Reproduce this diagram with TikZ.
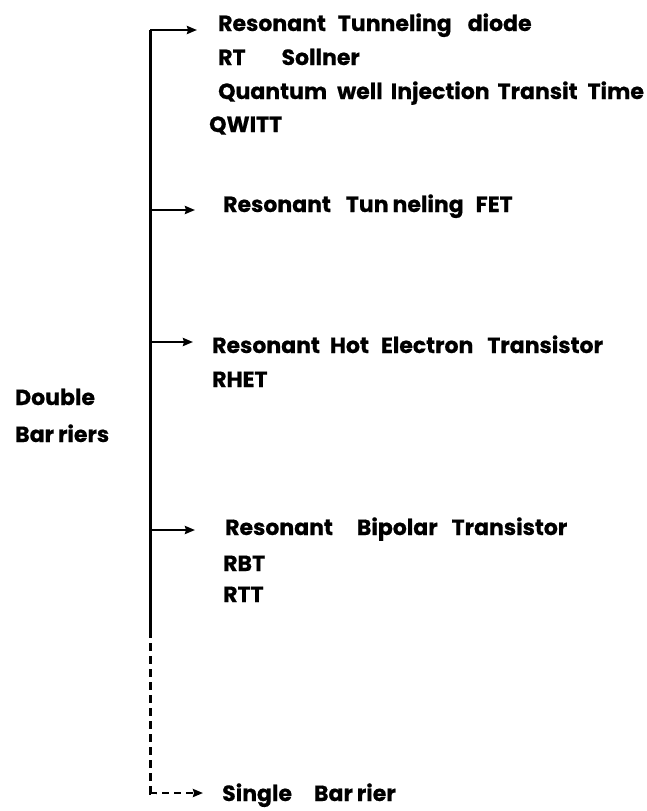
\documentclass[tikz,border=0pt]{standalone}
\usepackage{fontspec}
\setmainfont{Poppins}[BoldFeatures={FakeBold=0.6}]
\usetikzlibrary{arrows.meta}
\begin{document}
\begin{tikzpicture}[x=1pt,y=-1pt,
  lbl/.style={anchor=base west,inner sep=0pt,font=\fontsize{22}{26}\selectfont\bfseries},
  trunk/.style={line width=3pt},
  trunkdash/.style={line width=3pt,dash pattern=on 8pt off 5pt},
  branch/.style={line width=2.8pt,-{Stealth[length=10pt,width=8pt,inset=1pt]}},
  branchdash/.style={line width=2.8pt,dash pattern=on 7pt off 5pt,-{Stealth[length=10pt,width=8pt,inset=1pt]}}]
\useasboundingbox (0,0) rectangle (647,811);
% text
\node[lbl] (t1) at (218,31) {Resonant\hspace{12pt}Tunneling\hspace{16pt}diode};
\node[lbl] (t1b) at (218,65) {RT\hspace{36pt}Sollner};
\node[lbl] (t1c) at (218,99) {Quantum\hspace{10pt}well\hspace{8pt}Injection\hspace{8pt}Transit\hspace{10pt}Time};
\node[lbl] (t1d) at (209,132) {QWITT};
\node[lbl] (t2) at (223,212) {Resonant\hspace{15pt}Tun\hspace{4pt}neling\hspace{12pt}FET};
\node[lbl] (t3) at (212,353) {Resonant\hspace{10pt}Hot\hspace{12pt}Electron\hspace{14pt}Transistor};
\node[lbl] (t3b) at (212,387) {RHET};
\node[lbl] (d1) at (15,405) {Double};
\node[lbl] (d2) at (15,442) {Bar\hspace{4pt}riers};
\node[lbl] (t4) at (225,535) {Resonant\hspace{24pt}Bipolar\hspace{14pt}Transistor};
\node[lbl] (t4b) at (223,571) {RBT};
\node[lbl] (t4c) at (223,602) {RTT};
\node[lbl] (t5) at (222,801) {Single\hspace{22pt}Bar\hspace{4pt}rier};
% trunk points
\coordinate (j1) at (150,30);
\coordinate (j2) at (150,210);
\coordinate (j3) at (150,342);
\coordinate (j4) at (150,530);
\coordinate (js) at (150,630);
\coordinate (j5) at (150,793);
\coordinate (e1) at (197,30);
\coordinate (e2) at (195,210);
\coordinate (e3) at (193,342);
\coordinate (e4) at (195,530);
\coordinate (e5) at (203,793);
\draw[trunk] (j1) -- (js);
\draw[trunkdash] (js) -- (j5) -- ([xshift=6pt]j5);
\draw[branch] (j1) -- (e1);
\draw[branch] (j2) -- (e2);
\draw[branch] (j3) -- (e3);
\draw[branch] (j4) -- (e4);
\draw[branchdash] (j5) -- (e5);
\end{tikzpicture}
\end{document}
